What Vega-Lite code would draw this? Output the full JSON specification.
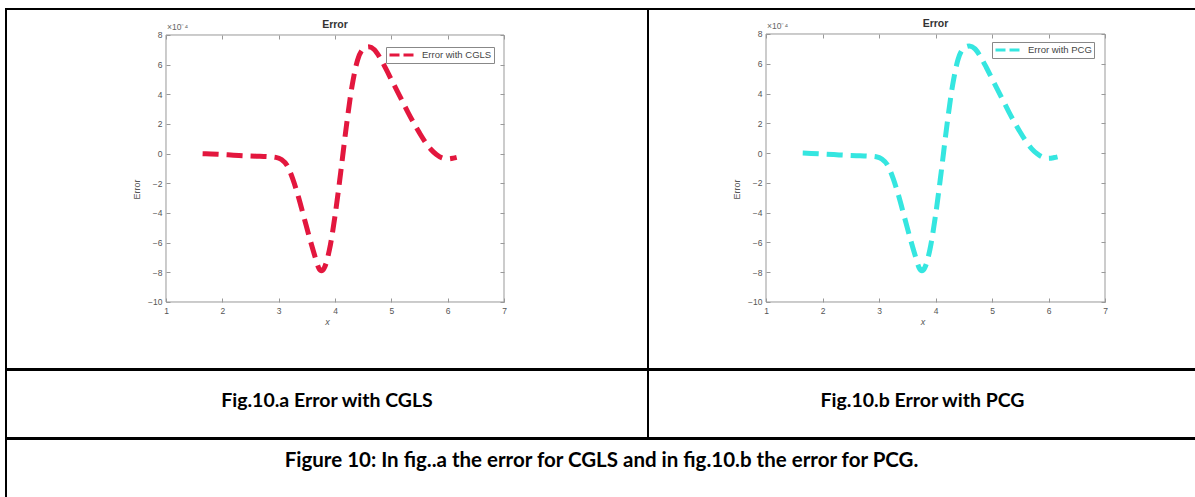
{
  "$schema": "https://vega.github.io/schema/vega-lite/v6.json",
  "background": "white",
  "padding": {"left": 5, "top": 8, "right": 0, "bottom": 0},
  "spacing": -2,
  "config": {
    "view": {"stroke": "#000", "strokeWidth": 2},
    "concat": {"spacing": 0},
    "font": "Liberation Sans",
    "axis": {"grid": false, "domain": false}
  },
  "datasets": {
    "cgls": [
      {"x": 1.65, "error": 0},
      {"x": 1.8, "error": -2e-6},
      {"x": 2.0, "error": -6e-6},
      {"x": 2.2, "error": -1e-5},
      {"x": 2.4, "error": -1.4e-5},
      {"x": 2.6, "error": -1.7e-5},
      {"x": 2.8, "error": -2e-5},
      {"x": 2.95, "error": -2.5e-5},
      {"x": 3.05, "error": -4e-5},
      {"x": 3.15, "error": -8e-5},
      {"x": 3.25, "error": -1.7e-4},
      {"x": 3.35, "error": -2.9e-4},
      {"x": 3.45, "error": -4.3e-4},
      {"x": 3.55, "error": -5.7e-4},
      {"x": 3.65, "error": -7.0e-4},
      {"x": 3.71, "error": -7.7e-4},
      {"x": 3.76, "error": -7.9e-4},
      {"x": 3.81, "error": -7.7e-4},
      {"x": 3.9, "error": -6.5e-4},
      {"x": 4.0, "error": -4.2e-4},
      {"x": 4.1, "error": -1.3e-4},
      {"x": 4.2, "error": 1.8e-4},
      {"x": 4.3, "error": 4.5e-4},
      {"x": 4.4, "error": 6.3e-4},
      {"x": 4.5, "error": 7.05e-4},
      {"x": 4.6, "error": 7.2e-4},
      {"x": 4.7, "error": 7.0e-4},
      {"x": 4.8, "error": 6.45e-4},
      {"x": 4.9, "error": 5.75e-4},
      {"x": 5.0, "error": 5.0e-4},
      {"x": 5.1, "error": 4.25e-4},
      {"x": 5.2, "error": 3.5e-4},
      {"x": 5.3, "error": 2.75e-4},
      {"x": 5.4, "error": 2.05e-4},
      {"x": 5.5, "error": 1.4e-4},
      {"x": 5.6, "error": 8e-5},
      {"x": 5.7, "error": 3e-5},
      {"x": 5.8, "error": -5e-6},
      {"x": 5.9, "error": -2.8e-5},
      {"x": 6.0, "error": -3.5e-5},
      {"x": 6.1, "error": -3e-5},
      {"x": 6.16, "error": -2.5e-5}
    ],
    "pcg": [
      {"x": 1.65, "error": 0},
      {"x": 1.8, "error": -2e-6},
      {"x": 2.0, "error": -6e-6},
      {"x": 2.2, "error": -1e-5},
      {"x": 2.4, "error": -1.4e-5},
      {"x": 2.6, "error": -1.7e-5},
      {"x": 2.8, "error": -2e-5},
      {"x": 2.95, "error": -2.5e-5},
      {"x": 3.05, "error": -4e-5},
      {"x": 3.15, "error": -8e-5},
      {"x": 3.25, "error": -1.7e-4},
      {"x": 3.35, "error": -2.9e-4},
      {"x": 3.45, "error": -4.3e-4},
      {"x": 3.55, "error": -5.7e-4},
      {"x": 3.65, "error": -7.0e-4},
      {"x": 3.71, "error": -7.7e-4},
      {"x": 3.76, "error": -7.9e-4},
      {"x": 3.81, "error": -7.7e-4},
      {"x": 3.9, "error": -6.5e-4},
      {"x": 4.0, "error": -4.2e-4},
      {"x": 4.1, "error": -1.3e-4},
      {"x": 4.2, "error": 1.8e-4},
      {"x": 4.3, "error": 4.5e-4},
      {"x": 4.4, "error": 6.3e-4},
      {"x": 4.5, "error": 7.05e-4},
      {"x": 4.6, "error": 7.2e-4},
      {"x": 4.7, "error": 7.0e-4},
      {"x": 4.8, "error": 6.45e-4},
      {"x": 4.9, "error": 5.75e-4},
      {"x": 5.0, "error": 5.0e-4},
      {"x": 5.1, "error": 4.25e-4},
      {"x": 5.2, "error": 3.5e-4},
      {"x": 5.3, "error": 2.75e-4},
      {"x": 5.4, "error": 2.05e-4},
      {"x": 5.5, "error": 1.4e-4},
      {"x": 5.6, "error": 8e-5},
      {"x": 5.7, "error": 3e-5},
      {"x": 5.8, "error": -5e-6},
      {"x": 5.9, "error": -2.8e-5},
      {"x": 6.0, "error": -3.5e-5},
      {"x": 6.1, "error": -3e-5},
      {"x": 6.16, "error": -2.5e-5}
    ]
  },
  "vconcat": [
    {
      "spacing": 0,
      "bounds": "flush",
      "resolve": {"scale": {"color": "independent"}, "legend": {"color": "independent"}},
      "hconcat": [
        {
          "width": 642,
          "height": 360,
          "resolve": {"axis": {"x": "independent", "y": "independent"}},
          "layer": [
            {
              "data": {"values": [{}]},
              "mark": {"type": "rect", "fill": "transparent", "stroke": "#999", "strokeWidth": 1},
              "encoding": {
                "x": {"datum": 1, "type": "quantitative", "scale": {"domain": [-1.8402, 9.5562], "nice": false, "zero": false},
                  "axis": {"orient": "top", "offset": -26, "values": [1, 2, 3, 4, 5, 6, 7], "labels": false, "tickSize": -4, "tickColor": "#999", "title": null}},
                "x2": {"datum": 7},
                "y": {"datum": -0.001, "type": "quantitative", "scale": {"domain": [-0.00145169, 0.00097528], "nice": false, "zero": false},
                  "axis": {"orient": "right", "offset": -144, "values": [-0.001, -0.0008, -0.0006, -0.0004, -0.0002, 0, 0.0002, 0.0004, 0.0006, 0.0008], "labels": false, "tickSize": -4, "tickColor": "#999", "title": null}},
                "y2": {"datum": 0.0008}
              }
            },
            {
              "data": {"name": "cgls"},
              "mark": {"type": "line", "interpolate": "monotone", "strokeWidth": 5, "strokeDash": [16, 8], "strokeCap": "butt"},
              "encoding": {
                "x": {"field": "x", "type": "quantitative", "scale": {"domain": [-1.8402, 9.5562], "nice": false, "zero": false},
                  "axis": {"orient": "bottom", "offset": -67, "values": [1, 2, 3, 4, 5, 6, 7], "format": "d", "tickSize": -4, "tickColor": "#999", "labelFontSize": 8.5, "labelColor": "#555", "labelPadding": 8, "labelFlush": false, "title": "x", "titleFontSize": 9, "titleFontWeight": "normal", "titleFontStyle": "italic", "titleColor": "#555", "titlePadding": 3}},
                "y": {"field": "error", "type": "quantitative", "scale": {"domain": [-0.00145169, 0.00097528], "nice": false, "zero": false},
                  "axis": {"orient": "left", "offset": -160, "values": [-0.001, -0.0008, -0.0006, -0.0004, -0.0002, 0, 0.0002, 0.0004, 0.0006, 0.0008], "labelExpr": "format(round(datum.value * 10000), 'd')", "tickSize": -4, "tickColor": "#999", "labelFontSize": 8.5, "labelColor": "#555", "labelPadding": 8, "labelFlush": false, "title": "Error", "titleFontSize": 9, "titleFontWeight": "normal", "titleColor": "#555", "titlePadding": 6}},
                "color": {"datum": "Error with CGLS", "type": "nominal", "scale": {"range": ["#e3173e"]},
                  "legend": {"orient": "none", "legendX": 380, "legendY": 38, "title": null, "strokeColor": "#888", "fillColor": "white", "padding": 2, "symbolType": "stroke", "symbolSize": 729, "clipHeight": 12, "symbolStrokeWidth": 3, "symbolDash": [10, 4], "labelFontSize": 9.5, "labelColor": "#444", "labelOffset": 4}}
              }
            },
            {
              "data": {"values": [{}]},
              "mark": {"type": "text", "text": "Error", "fontWeight": "bold", "fontSize": 10.5, "color": "#333", "baseline": "middle", "dy": -10},
              "encoding": {
                "x": {"datum": 4, "type": "quantitative", "scale": {"domain": [-1.8402, 9.5562], "nice": false, "zero": false}, "axis": null},
                "y": {"datum": 0.0008, "type": "quantitative", "scale": {"domain": [-0.00145169, 0.00097528], "nice": false, "zero": false}, "axis": null}
              }
            },
            {
              "data": {"values": [{}]},
              "mark": {"type": "text", "text": "×10⁻⁴", "fontSize": 8.5, "color": "#666", "align": "left", "baseline": "bottom", "dx": 1, "dy": -3},
              "encoding": {
                "x": {"datum": 1, "type": "quantitative", "scale": {"domain": [-1.8402, 9.5562], "nice": false, "zero": false}, "axis": null},
                "y": {"datum": 0.0008, "type": "quantitative", "scale": {"domain": [-0.00145169, 0.00097528], "nice": false, "zero": false}, "axis": null}
              }
            }
          ]
        },
        {
          "width": 549,
          "height": 360,
          "resolve": {"axis": {"x": "independent", "y": "independent"}},
          "layer": [
            {
              "data": {"values": [{}]},
              "mark": {"type": "rect", "fill": "transparent", "stroke": "#999", "strokeWidth": 1},
              "encoding": {
                "x": {"datum": 1, "type": "quantitative", "scale": {"domain": [-1.0885, 8.6283], "nice": false, "zero": false},
                  "axis": {"orient": "top", "offset": -25, "values": [1, 2, 3, 4, 5, 6, 7], "labels": false, "tickSize": -4, "tickColor": "#999", "title": null}},
                "x2": {"datum": 7},
                "y": {"datum": -0.001, "type": "quantitative", "scale": {"domain": [-0.001450, 0.0009679], "nice": false, "zero": false},
                  "axis": {"orient": "right", "offset": -92, "values": [-0.001, -0.0008, -0.0006, -0.0004, -0.0002, 0, 0.0002, 0.0004, 0.0006, 0.0008], "labels": false, "tickSize": -4, "tickColor": "#999", "title": null}},
                "y2": {"datum": 0.0008}
              }
            },
            {
              "data": {"name": "pcg"},
              "mark": {"type": "line", "interpolate": "monotone", "strokeWidth": 5, "strokeDash": [16, 8], "strokeCap": "butt"},
              "encoding": {
                "x": {"field": "x", "type": "quantitative", "scale": {"domain": [-1.0885, 8.6283], "nice": false, "zero": false},
                  "axis": {"orient": "bottom", "offset": -67, "values": [1, 2, 3, 4, 5, 6, 7], "format": "d", "tickSize": -4, "tickColor": "#999", "labelFontSize": 8.5, "labelColor": "#555", "labelPadding": 8, "labelFlush": false, "title": "x", "titleFontSize": 9, "titleFontWeight": "normal", "titleFontStyle": "italic", "titleColor": "#555", "titlePadding": 3}},
                "y": {"field": "error", "type": "quantitative", "scale": {"domain": [-0.001450, 0.0009679], "nice": false, "zero": false},
                  "axis": {"orient": "left", "offset": -118, "values": [-0.001, -0.0008, -0.0006, -0.0004, -0.0002, 0, 0.0002, 0.0004, 0.0006, 0.0008], "labelExpr": "format(round(datum.value * 10000), 'd')", "tickSize": -4, "tickColor": "#999", "labelFontSize": 8.5, "labelColor": "#555", "labelPadding": 8, "labelFlush": false, "title": "Error", "titleFontSize": 9, "titleFontWeight": "normal", "titleColor": "#555", "titlePadding": 6}},
                "color": {"datum": "Error with PCG", "type": "nominal", "scale": {"range": ["#35e6e0"]},
                  "legend": {"orient": "none", "legendX": 344, "legendY": 33, "title": null, "strokeColor": "#888", "fillColor": "white", "padding": 2, "symbolType": "stroke", "symbolSize": 729, "clipHeight": 12, "symbolStrokeWidth": 3, "symbolDash": [10, 4], "labelFontSize": 9.5, "labelColor": "#444", "labelOffset": 4}}
              }
            },
            {
              "data": {"values": [{}]},
              "mark": {"type": "text", "text": "Error", "fontWeight": "bold", "fontSize": 10.5, "color": "#333", "baseline": "middle", "dy": -10},
              "encoding": {
                "x": {"datum": 4, "type": "quantitative", "scale": {"domain": [-1.0885, 8.6283], "nice": false, "zero": false}, "axis": null},
                "y": {"datum": 0.0008, "type": "quantitative", "scale": {"domain": [-0.001450, 0.0009679], "nice": false, "zero": false}, "axis": null}
              }
            },
            {
              "data": {"values": [{}]},
              "mark": {"type": "text", "text": "×10⁻⁴", "fontSize": 8.5, "color": "#666", "align": "left", "baseline": "bottom", "dx": 1, "dy": -3},
              "encoding": {
                "x": {"datum": 1, "type": "quantitative", "scale": {"domain": [-1.0885, 8.6283], "nice": false, "zero": false}, "axis": null},
                "y": {"datum": 0.0008, "type": "quantitative", "scale": {"domain": [-0.001450, 0.0009679], "nice": false, "zero": false}, "axis": null}
              }
            }
          ]
        }
      ]
    },
    {
      "spacing": 0,
      "bounds": "flush",
      "hconcat": [
        {
          "width": 642,
          "height": 68,
          "data": {"values": [{"caption": "Fig.10.a Error with CGLS"}]},
          "mark": {"type": "text", "font": "Lato", "fontWeight": "bold", "fontSize": 19.5, "color": "#000", "baseline": "middle", "dy": -3},
          "encoding": {
            "x": {"datum": 0.5, "type": "quantitative", "scale": {"domain": [0, 1]}, "axis": null},
            "y": {"datum": 0.5, "type": "quantitative", "scale": {"domain": [0, 1]}, "axis": null},
            "text": {"field": "caption", "type": "nominal"}
          }
        },
        {
          "width": 549,
          "height": 68,
          "data": {"values": [{"caption": "Fig.10.b Error with PCG"}]},
          "mark": {"type": "text", "font": "Lato", "fontWeight": "bold", "fontSize": 19.5, "color": "#000", "baseline": "middle", "dy": -3},
          "encoding": {
            "x": {"datum": 0.5, "type": "quantitative", "scale": {"domain": [0, 1]}, "axis": null},
            "y": {"datum": 0.5, "type": "quantitative", "scale": {"domain": [0, 1]}, "axis": null},
            "text": {"field": "caption", "type": "nominal"}
          }
        }
      ]
    },
    {
      "width": 1191,
      "height": 62,
      "data": {"values": [{"caption": "Figure 10: In fig..a the error for CGLS and in fig.10.b the error for PCG."}]},
      "mark": {"type": "text", "font": "Lato", "fontWeight": "bold", "fontSize": 20.5, "color": "#000", "baseline": "middle", "dy": -9},
      "encoding": {
        "x": {"datum": 0.5, "type": "quantitative", "scale": {"domain": [0, 1]}, "axis": null},
        "y": {"datum": 0.5, "type": "quantitative", "scale": {"domain": [0, 1]}, "axis": null},
        "text": {"field": "caption", "type": "nominal"}
      }
    }
  ]
}
